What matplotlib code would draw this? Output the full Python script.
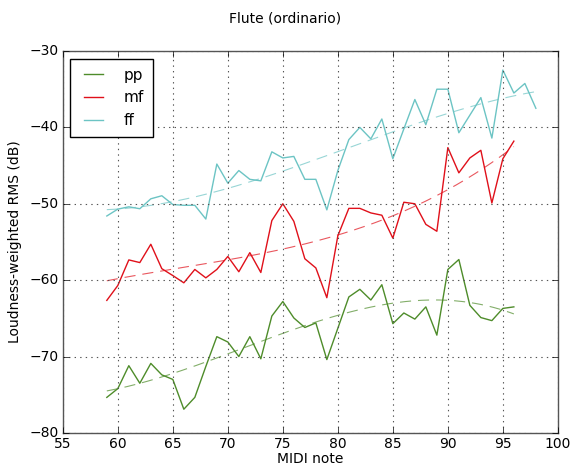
import numpy as np
import matplotlib
matplotlib.use("Agg")
import matplotlib.pyplot as plt

plt.style.use("classic")

notes_pp = list(range(59, 97))
pp = [-75.35, -74.2, -71.2, -73.5, -70.9, -72.4, -73.0, -76.9, -75.35, -71.3,
      -67.4, -68.1, -70.0, -67.4, -70.3, -64.7, -62.8, -64.95, -66.2, -65.6,
      -70.4, -66.3, -62.2, -61.2, -62.6, -60.6, -65.7, -64.3, -65.1, -63.5,
      -67.2, -58.6, -57.3, -63.3, -64.9, -65.3, -63.7, -63.5]

notes_mf = list(range(59, 97))
mf = [-62.65, -60.7, -57.35, -57.7, -55.3, -58.5, -59.4, -60.35, -58.6, -59.7,
      -58.6, -56.9, -58.9, -56.4, -59.0, -52.2, -50.0, -52.3, -57.2, -58.4,
      -62.3, -54.2, -50.6, -50.6, -51.2, -51.5, -54.5, -49.8, -50.0, -52.7,
      -53.6, -42.65, -45.95, -44.0, -43.0, -49.9, -44.1, -41.8]

notes_ff = list(range(59, 99))
ff = [-51.6, -50.7, -50.4, -50.65, -49.35, -48.95, -50.1, -50.2, -50.2, -52.0,
      -44.8, -47.3, -45.65, -46.8, -47.0, -43.2, -44.0, -43.8, -46.8, -46.8,
      -50.8, -45.65, -41.6, -40.0, -41.5, -38.9, -44.1, -40.2, -36.35, -39.65,
      -35.0, -35.0, -40.7, -38.4, -36.1, -41.4, -32.5, -35.5, -34.25, -37.5]

labels = ["pp", "mf", "ff"]
colors = ["#4e8c2a", "#e0101a", "#6cc4c4"]

fig = plt.figure(figsize=(5.71, 4.68), dpi=100)
fig.patch.set_facecolor("white")
ax = fig.add_axes([0.110, 0.075, 0.867, 0.816])

series = [(notes_pp, pp), (notes_mf, mf), (notes_ff, ff)]
for (x, y), lab, c in zip(series, labels, colors):
    x = np.array(x, dtype=float)
    y = np.array(y, dtype=float)
    ax.plot(x, y, color=c, lw=1.0, label=lab)
    coef = np.polyfit(x, y, 3)
    xf = np.linspace(x.min(), x.max(), 200)
    ax.plot(xf, np.polyval(coef, xf), color=c, lw=0.8, ls=(0, (8, 5)), alpha=0.7)

ax.set_xlim(55, 100)
ax.set_ylim(-80, -30)
ax.set_xticks(range(55, 101, 5))
ax.set_yticks(range(-80, -29, 10))
ax.grid(True, color="#555555", ls=":", lw=0.8)
ax.tick_params(labelsize=10, direction="in", length=4, pad=3)
for s in ax.spines.values():
    s.set_color("#555555")
ax.set_xlabel("MIDI note", fontsize=10, labelpad=1)
ax.set_ylabel("Loudness-weighted RMS (dB)", fontsize=10)
fig.text(0.5, 0.960, "Flute (ordinario)", ha="center", va="center", fontsize=10)

leg = ax.legend(loc="upper left", fontsize=11, handlelength=1.8, borderpad=0.6,
                labelspacing=0.5, handletextpad=1.1, fancybox=False)
leg.get_frame().set_edgecolor("black")

fig.savefig("out.png", dpi=100, facecolor="white")
